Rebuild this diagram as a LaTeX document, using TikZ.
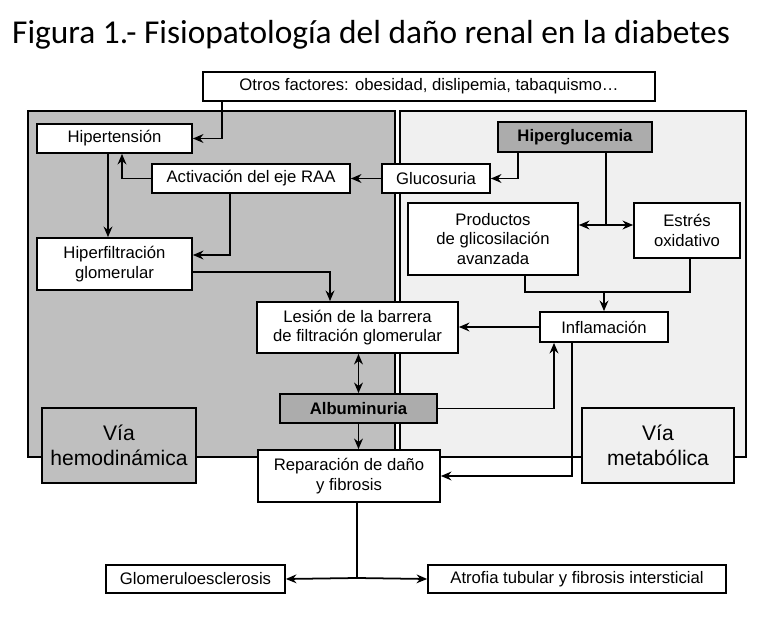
\documentclass[tikz,border=0pt]{standalone}
\usepackage{fontspec}
\setmainfont{Liberation Sans}
\newfontfamily\titlefont{Carlito}
\usetikzlibrary{positioning,arrows.meta}

\begin{document}
\begin{tikzpicture}[x=0.02cm, y=-0.02cm,
        box/.style = {
            draw,
            fill = white,
            line width = 1pt,
            align = center,
            inner sep = 0pt,
            font = \fontsize{9.5}{11}\selectfont
        },
        dark/.style = {box, fill = gray!65, font = \fontsize{9.5}{11}\selectfont\bfseries},
        panel/.style = {draw, line width = 1pt},
        link/.style = {line width = 1pt, -{Stealth[length=6pt, width=5pt]}},
        >={Stealth[length=6pt, width=5pt]}
        ]
%
        \useasboundingbox (0,0) rectangle (778,618);
        \node[anchor=west, font=\titlefont\fontsize{19}{22}\selectfont] (title) at (6,35) {Figura 1.- Fisiopatología del daño renal en la diabetes};
%
        \draw[panel, fill=gray!50] (28,111) rectangle (395,457);
        \draw[panel, fill=gray!12] (400,111) rectangle (746,457);
%
        \node[box, minimum width=9.04cm, minimum height=0.58cm] (otros) at (429,86.5) {Otros factores: obesidad, dislipemia, tabaquismo…};
        \node[box, minimum width=3.1cm, minimum height=0.58cm] (hiper) at (114.5,138.5) {Hipertensión};
        \node[box, minimum width=3.96cm, minimum height=0.58cm] (raa) at (251,178.5) {Activación del eje RAA};
        \node[box, minimum width=2.16cm, minimum height=0.58cm] (gluc) at (436,178.5) {Glucosuria};
        \node[dark, minimum width=3.08cm, minimum height=0.6cm] (hglu) at (575,137) {Hiperglucemia};
        \node[box, minimum width=3.4cm, minimum height=1.44cm] (prod) at (493,239) {Productos\\de glicosilación\\avanzada};
        \node[box, minimum width=2.12cm, minimum height=1.1cm] (estres) at (687,230.5) {Estrés\\oxidativo};
        \node[box, minimum width=3.1cm, minimum height=1.04cm] (filt) at (114.5,264) {Hiperfiltración\\glomerular};
        \node[box, minimum width=4.02cm, minimum height=1.02cm] (lesion) at (357.5,327.5) {Lesión de la barrera\\de filtración glomerular};
        \node[box, minimum width=2.56cm, minimum height=0.6cm] (infl) at (604,327) {Inflamación};
        \node[dark, minimum width=3.14cm, minimum height=0.58cm] (albu) at (358.5,408.5) {Albuminuria};
        \node[box, fill=gray!50, minimum width=3.08cm, minimum height=1.5cm, font=\fontsize{12}{14}\selectfont] (hemo) at (119,445.5) {Vía\\hemodinámica};
        \node[box, fill=gray!12, minimum width=3.04cm, minimum height=1.5cm, font=\fontsize{12}{14}\selectfont] (meta) at (658,445.5) {Vía\\metabólica};
        \node[box, minimum width=3.64cm, minimum height=1.04cm] (rep) at (349,476) {Reparación de daño\\y fibrosis};
        \node[box, minimum width=3.58cm, minimum height=0.56cm] (glom) at (195.5,579) {Glomeruloesclerosis};
        \node[box, minimum width=5.96cm, minimum height=0.56cm] (atro) at (577,579) {Atrofia tubular y fibrosis intersticial};
%
        \draw[link] (otros.south -| 222,0) |- (hiper.east);
        \draw[link] (raa.west) -| (hiper.south -| 122,0);
        \draw[link] (hiper.south -| 108,0) -- (filt.north -| 108,0);
        \draw[link] (gluc.west) -- (raa.east);
        \draw[link] (hglu.south -| 518,0) |- (gluc.east);
        \draw[line width=1pt] (hglu.south -| 606,0) -- (606,225);
        \draw[line width=1pt, <->] (prod.east |- 0,225) -- (estres.west |- 0,225);
        \draw[link] (raa.south -| 230,0) |- (filt.east |- 0,255);
        \draw[link] (filt.east |- 0,272) -| (lesion.north -| 330,0);
        \draw[line width=1pt] (prod.south -| 525,0) |- (690,292) -- (estres.south -| 690,0);
        \draw[link] (604,292) -- (infl.north);
        \draw[link] (infl.west) -- (lesion.east |- infl.west);
        \draw[line width=1pt, <->] (lesion.south -| albu.north) -- (albu.north);
        \draw[link] (albu.east) -| (infl.south -| 554,0);
        \draw[link] (albu.south) -- (rep.north -| albu.south);
        \draw[link] (infl.south -| 572,0) |- (rep.east);
        \draw[line width=1pt] (rep.south -| 357,0) -- (357,578);
        \draw[link] (357,578) -- (glom.east);
        \draw[link] (357,578) -- (atro.west);
\end{tikzpicture}
\end{document}
